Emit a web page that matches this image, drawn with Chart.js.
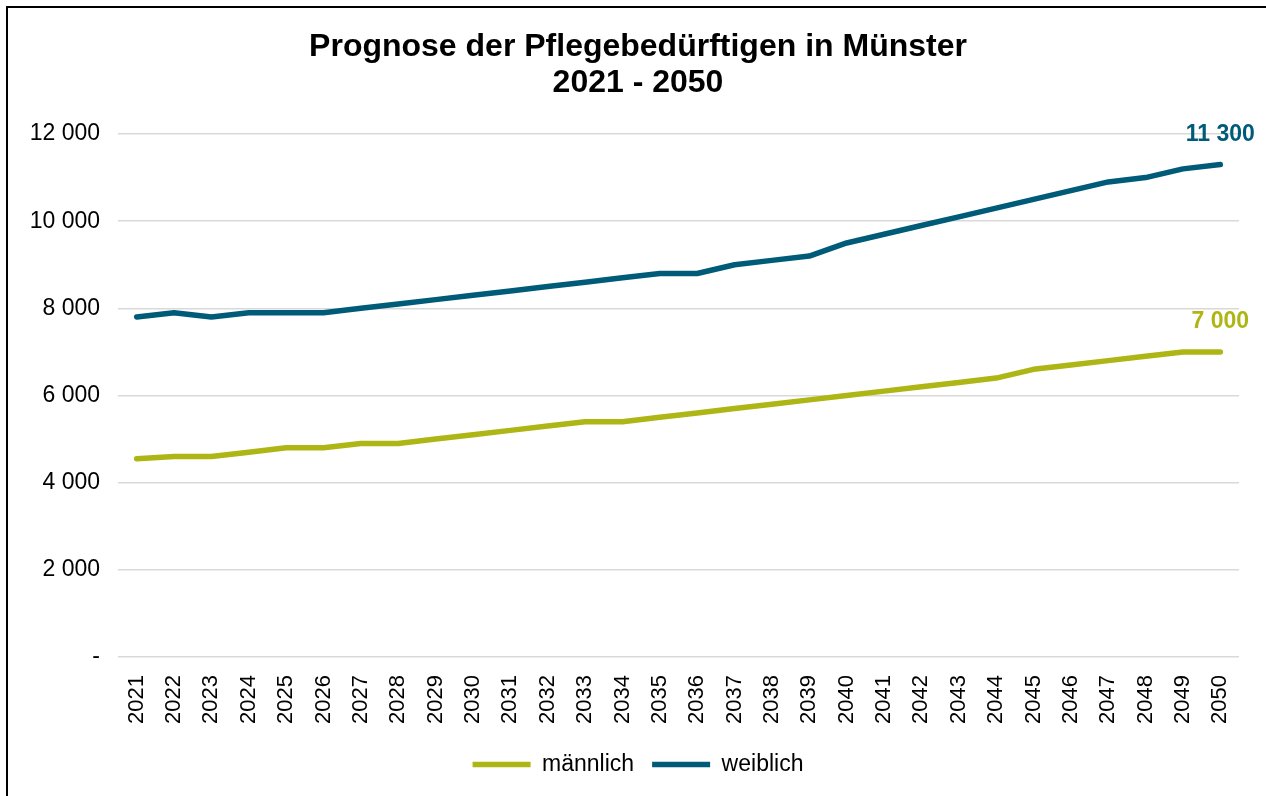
<!DOCTYPE html>
<html>
<head>
<meta charset="utf-8">
<script src="https://cdn.jsdelivr.net/npm/chart.js@4"></script>
<style>
  html, body { margin: 0; padding: 0; background: #fff; overflow: hidden; }
  #wrap { position: relative; width: 1266px; height: 796px; }
  #frame { position: absolute; left: 6px; top: 6px; width: 1300px; height: 830px;
           border-left: 2px solid #000; border-top: 2px solid #000; pointer-events: none; }
</style>
</head>
<body>
<div id="wrap">
  <canvas id="pflege" width="1266" height="796"></canvas>
  <div id="frame"></div>
</div>
<script>
// Jahre 2021 - 2050
const years = ["2021", "2022", "2023", "2024", "2025", "2026", "2027", "2028", "2029", "2030",
  "2031", "2032", "2033", "2034", "2035", "2036", "2037", "2038", "2039", "2040",
  "2041", "2042", "2043", "2044", "2045", "2046", "2047", "2048", "2049", "2050"];

const maennlich = [4550, 4600, 4600, 4700, 4800, 4800, 4900, 4900, 5000, 5100,
  5200, 5300, 5400, 5400, 5500, 5600, 5700, 5800, 5900, 6000,
  6100, 6200, 6300, 6400, 6600, 6700, 6800, 6900, 7000, 7000];

const weiblich = [7800, 7900, 7800, 7900, 7900, 7900, 8000, 8100, 8200, 8300,
  8400, 8500, 8600, 8700, 8800, 8800, 9000, 9100, 9200, 9500,
  9700, 9900, 10100, 10300, 10500, 10700, 10900, 11000, 11200, 11300];

const yTicks = [0, 2000, 4000, 6000, 8000, 10000, 12000];

const colGreen = "#AEB615";
const colBlue = "#005B78";

function fmt(v) {
  if (v === 0) return "-";
  return String(v).replace(/\B(?=(\d{3})+(?!\d))/g, " ");
}

// Wert am letzten Punkt jeder Linie
const endLabels = {
  id: "endLabels",
  afterDatasetsDraw(chart) {
    const { ctx } = chart;
    ctx.save();
    ctx.font = "bold 23px 'Liberation Sans', Arial, sans-serif";
    ctx.textAlign = "center";
    ctx.textBaseline = "middle";
    chart.data.datasets.forEach((ds, i) => {
      const meta = chart.getDatasetMeta(i);
      const last = meta.data[meta.data.length - 1];
      ctx.fillStyle = ds.borderColor;
      ctx.fillText(fmt(ds.data[ds.data.length - 1]), last.x, last.y - 30);
    });
    ctx.restore();
  },
};

Chart.defaults.font.family = "'Liberation Sans', Arial, sans-serif";
Chart.defaults.color = "#000";

new Chart(document.getElementById("pflege"), {
  type: "line",
  data: {
    labels: years,
    datasets: [
      {
        label: "männlich",
        data: maennlich,
        borderColor: colGreen,
        backgroundColor: colGreen,
        borderWidth: 5.5,
        borderCapStyle: "round",
        borderJoinStyle: "round",
        pointRadius: 0,
        tension: 0,
      },
      {
        label: "weiblich",
        data: weiblich,
        borderColor: colBlue,
        backgroundColor: colBlue,
        borderWidth: 5.5,
        borderCapStyle: "round",
        borderJoinStyle: "round",
        pointRadius: 0,
        tension: 0,
      },
    ],
  },
  options: {
    responsive: false,
    animation: false,
    layout: { padding: { left: 10, right: 0, top: 0, bottom: 10 } },
    plugins: {
      title: {
        display: true,
        text: ["Prognose der Pflegebedürftigen in Münster", "2021 - 2050"],
        font: { size: 32, weight: "bold", lineHeight: 1.125 },
        color: "#000",
        padding: { top: 29, bottom: 33 },
      },
      legend: {
        position: "bottom",
        labels: {
          usePointStyle: true,
          pointStyle: "line",
          pointStyleWidth: 58,
          font: { size: 23 },
          color: "#000",
          padding: 18,
        },
      },
      tooltip: { enabled: false },
    },
    scales: {
      x: {
        offset: true,
        grid: { display: false, drawTicks: false },
        border: { display: false },
        ticks: { minRotation: 90, maxRotation: 90, padding: 18, font: { size: 22 }, autoSkip: false },
        afterFit(scale) { scale.height = 78; },
      },
      y: {
        min: 0,
        max: 12000,
        afterBuildTicks(scale) { scale.ticks = yTicks.map(v => ({ value: v })); },
        grid: { color: "#D9D9D9", lineWidth: 1.5, drawTicks: false },
        border: { display: false },
        ticks: { padding: 18, font: { size: 23 }, callback: v => fmt(v) },
        afterFit(scale) { scale.width = 108; },
      },
      // leerer Rand rechts, damit Titel und Legende mittig zur Grafik sitzen
      yRand: {
        position: "right",
        display: true,
        grid: { display: false, drawTicks: false },
        border: { display: false },
        ticks: { display: false },
        afterFit(scale) { scale.width = 27; },
      },
    },
  },
  plugins: [endLabels],
});
</script>
</body>
</html>
